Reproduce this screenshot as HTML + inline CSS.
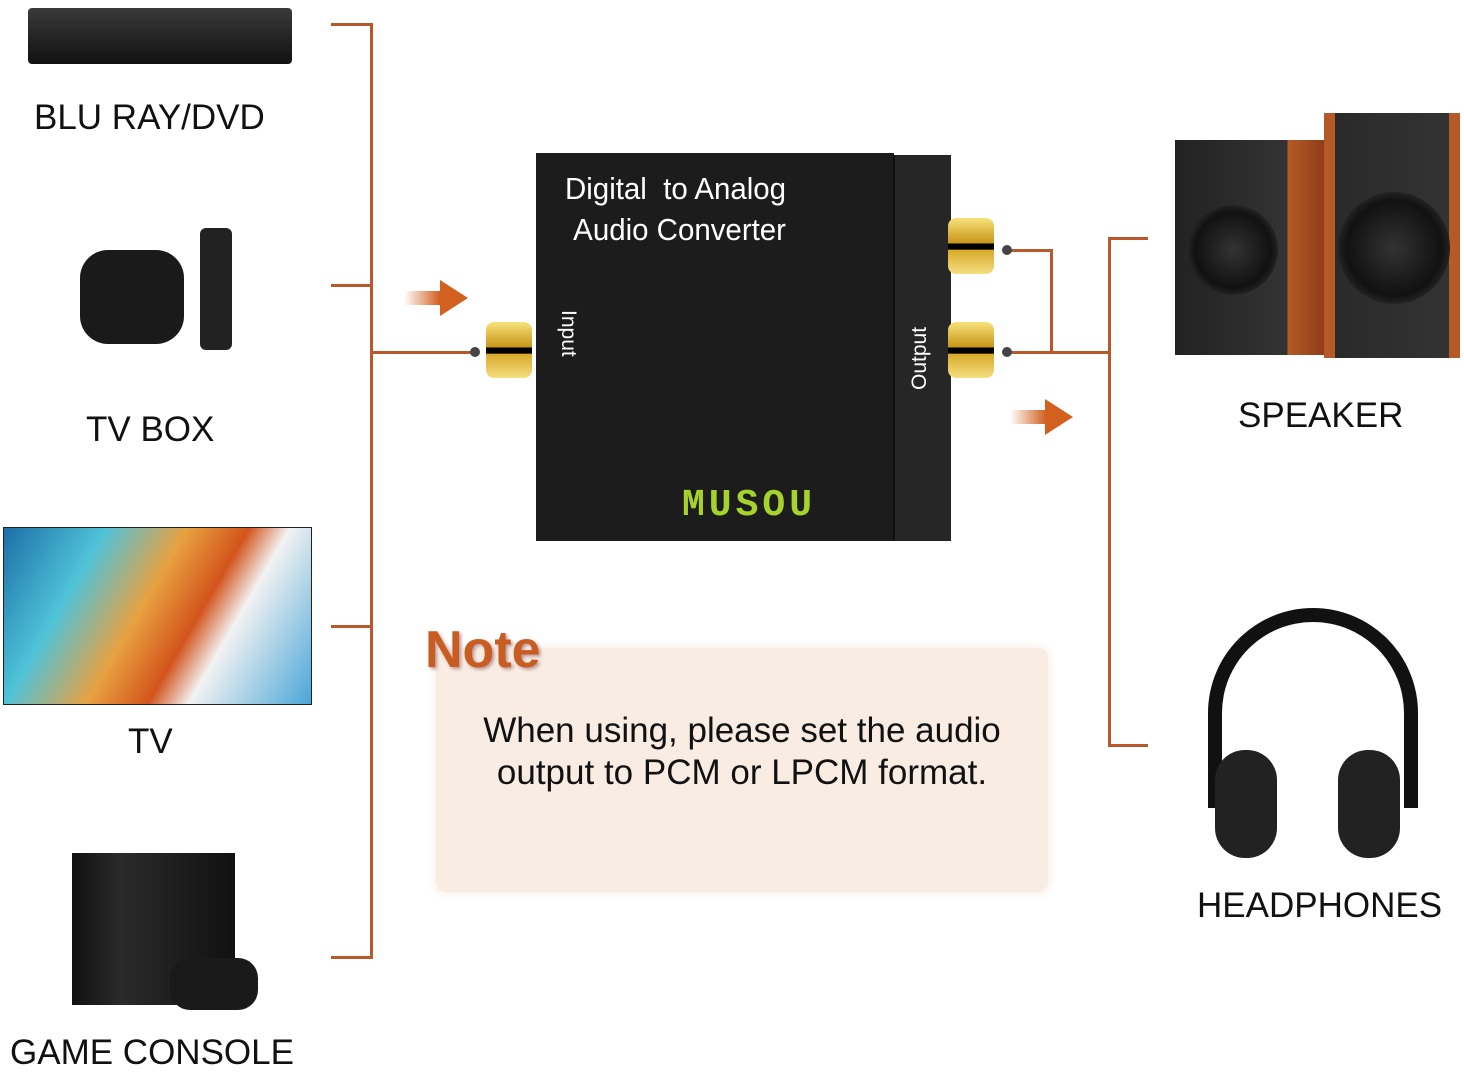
<!DOCTYPE html>
<html><head><meta charset="utf-8"><style>
body{margin:0;width:1464px;height:1068px;background:#fff;position:relative;overflow:hidden;font-family:"Liberation Sans",Arial,sans-serif}
.a{position:absolute}
.l{position:absolute;background:#b9582b}
.lab{position:absolute;font-size:35px;color:#111;white-space:nowrap}
.jack{position:absolute;width:46px;height:56px;border-radius:8px;background:linear-gradient(#f6e27a,#c9961a 45%,#000 46%,#000 56%,#d8a92a 57%,#f5df80)}
.dot{position:absolute;width:10px;height:10px;border-radius:50%;background:#444}
.arr{position:absolute;width:0;height:0;border-top:18px solid transparent;border-bottom:18px solid transparent;border-left:28px solid #d2601f}
</style></head><body>
<div class="l" style="left:370px;top:23px;width:3px;height:936px"></div>
<div class="l" style="left:331px;top:23px;width:41px;height:3px"></div>
<div class="l" style="left:331px;top:284px;width:41px;height:3px"></div>
<div class="l" style="left:331px;top:625px;width:41px;height:3px"></div>
<div class="l" style="left:331px;top:956px;width:41px;height:3px"></div>
<div class="l" style="left:371px;top:351px;width:106px;height:3px"></div>
<div class="l" style="left:1108px;top:237px;width:3px;height:510px"></div>
<div class="l" style="left:1108px;top:237px;width:40px;height:3px"></div>
<div class="l" style="left:1108px;top:744px;width:40px;height:3px"></div>
<div class="l" style="left:1008px;top:351px;width:102px;height:3px"></div>
<div class="l" style="left:1008px;top:249px;width:44px;height:3px"></div>
<div class="l" style="left:1050px;top:249px;width:3px;height:104px"></div>
<div class="a" style="left:404px;top:291px;width:36px;height:14px;background:linear-gradient(90deg,rgba(210,96,31,0),#d2601f)"></div>
<div class="arr" style="left:440px;top:280px"></div>
<div class="a" style="left:1010px;top:410px;width:36px;height:14px;background:linear-gradient(90deg,rgba(210,96,31,0),#d2601f)"></div>
<div class="arr" style="left:1045px;top:399px"></div>
<div class="a" style="left:536px;top:153px;width:358px;height:388px;background:#1c1c1c"></div>
<div class="a" style="left:893px;top:155px;width:56px;height:386px;background:#262626;border-left:2px solid #111"></div>
<div class="a" style="left:565px;top:168px;color:#fff;font-size:31px;line-height:41px;white-space:nowrap;transform:scaleX(.95);transform-origin:left">Digital&nbsp; to Analog<br>&nbsp;Audio Converter</div>
<div class="a" style="top:310px;color:#fff;font-size:21px;transform:rotate(90deg);transform-origin:left top;left:580px">Input</div>
<div class="a" style="left:908px;top:390px;color:#fff;font-size:21px;transform:rotate(-90deg);transform-origin:left top">Output</div>
<div class="a" style="left:682px;top:484px;color:#a6d22c;font-size:38px;font-weight:bold;letter-spacing:4px;font-family:'Liberation Mono',monospace">MUSOU</div>
<div class="jack" style="left:486px;top:322px"></div>
<div class="jack" style="left:948px;top:218px"></div>
<div class="jack" style="left:948px;top:322px"></div>
<div class="dot" style="left:470px;top:347px"></div>
<div class="dot" style="left:1002px;top:245px"></div>
<div class="dot" style="left:1002px;top:347px"></div>
<div class="a" style="left:436px;top:648px;width:612px;height:244px;background:#f8ece3;border-radius:10px;box-shadow:0 0 10px #f3e6dc"></div>
<div class="a" style="left:425px;top:620px;font-size:52px;font-weight:bold;color:#c95c20;text-shadow:2px 2px 3px #b99">Note</div>
<div class="a" style="left:436px;top:710px;width:612px;text-align:center;font-size:35px;line-height:42px;color:#111;white-space:nowrap">When using, please set the audio<br>output to PCM or LPCM format.</div>
<div class="a" style="left:28px;top:8px;width:264px;height:56px;background:linear-gradient(#3a3a3a,#111);border-radius:4px"></div>
<div class="lab" style="left:34px;top:98px">BLU RAY/DVD</div>
<div class="a" style="left:80px;top:250px;width:104px;height:94px;background:#1a1a1a;border-radius:28px"></div>
<div class="a" style="left:200px;top:228px;width:32px;height:122px;background:#222;border-radius:6px"></div>
<div class="lab" style="left:86px;top:410px">TV BOX</div>
<div class="a" style="left:3px;top:527px;width:307px;height:176px;border:1px solid #222;background:linear-gradient(120deg,#1d6fa8 0%,#4fc3d8 25%,#e8a140 45%,#d3541c 60%,#f2f2f2 70%,#4aa6d8 100%)"></div>
<div class="lab" style="left:128px;top:722px">TV</div>
<div class="a" style="left:72px;top:853px;width:163px;height:152px;background:linear-gradient(90deg,#111,#2a2a2a 30%,#111)"></div>
<div class="a" style="left:170px;top:958px;width:88px;height:52px;background:#1a1a1a;border-radius:20px"></div>
<div class="lab" style="left:10px;top:1033px">GAME CONSOLE</div>
<div class="a" style="left:1175px;top:140px;width:150px;height:215px;background:linear-gradient(90deg,#222 0,#333 75%,#b45a28 75%,#8f3c18)"></div>
<div class="a" style="left:1324px;top:113px;width:136px;height:245px;background:linear-gradient(90deg,#b45a28 0,#b45a28 8%,#2a2a2a 8%,#333 92%,#b45a28 92%)"></div>
<div class="a" style="left:1188px;top:205px;width:90px;height:90px;border-radius:50%;background:radial-gradient(#333,#111 60%,#555)"></div>
<div class="a" style="left:1338px;top:192px;width:112px;height:112px;border-radius:50%;background:radial-gradient(#333,#111 60%,#555)"></div>
<div class="lab" style="left:1238px;top:396px">SPEAKER</div>
<div class="a" style="left:1208px;top:608px;width:210px;height:200px;border:14px solid #111;border-bottom:none;border-radius:110px 110px 0 0;box-sizing:border-box"></div>
<div class="a" style="left:1215px;top:750px;width:62px;height:108px;background:#222;border-radius:30px"></div>
<div class="a" style="left:1338px;top:750px;width:62px;height:108px;background:#222;border-radius:30px"></div>
<div class="lab" style="left:1197px;top:886px">HEADPHONES</div>
</body></html>
